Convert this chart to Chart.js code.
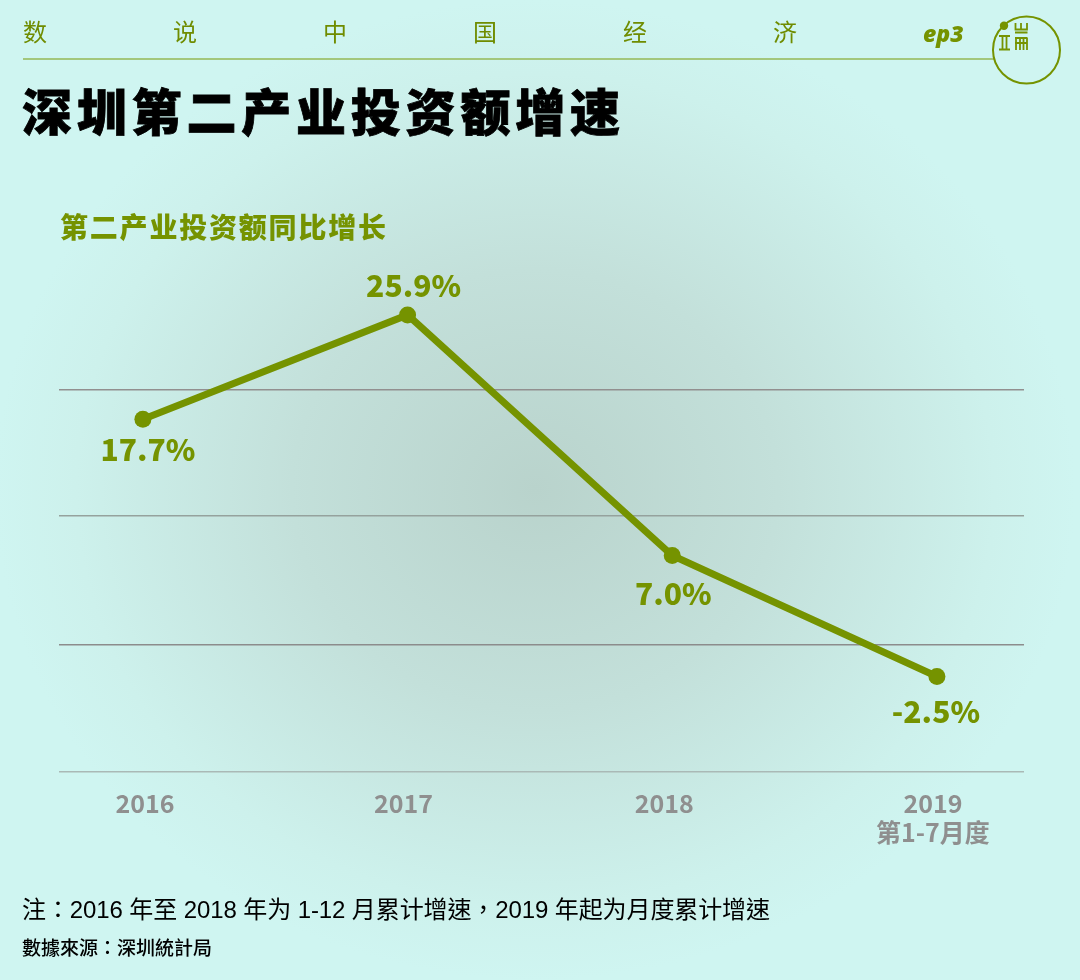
<!DOCTYPE html>
<html>
<head>
<meta charset="utf-8">
<script src="https://cdn.jsdelivr.net/npm/chart.js@4"></script>
<style>
html, body { margin: 0; padding: 0; }
body { width: 1080px; height: 980px; position: relative; overflow: hidden;
  background: radial-gradient(ellipse 540px 490px at 535px 490px, #b9d3cc 0%, #c3e0da 45%, #cdf1ec 85%, #cff5f1 100%);
  font-family: "Noto Sans CJK SC", sans-serif; }
canvas { position: absolute; left: 0; top: 0; }
.t { position: absolute; white-space: nowrap; line-height: 1; }
#brand span { position: absolute; top: 0; font-size: 24px; color: #6f8c00; font-family: "Noto Sans CJK SC"; font-weight: 400; }
#rule { position: absolute; left: 23px; top: 58px; width: 972px; height: 2px; background: #a3c77c; }
#ep { left: 923px; top: 17px; font: italic 800 23px "Open Sans", sans-serif; color: #759300; }
#title { left: 22px; top: 84px; font-size: 50px; font-weight: 900; letter-spacing: 4.8px; color: #000; -webkit-text-stroke: 0.8px #000; }
#sub { left: 60px; top: 212px; font-size: 28px; font-weight: 900; letter-spacing: 1.8px; color: #759300; }
#note { left: 22px; top: 898px; font-size: 24px; letter-spacing: -0.1px; color: #000; font-family: "Liberation Sans", "Noto Sans CJK TC"; }
#src { left: 22px; top: 937px; font-size: 19px; font-weight: 500; color: #000; font-family: "Noto Sans CJK TC"; }
#logo { position: absolute; left: 990px; top: 14px; }
</style>
</head>
<body>
<canvas id="myChart" width="1080" height="980"></canvas>
<div id="brand" class="t" style="left:0;top:19px;width:1080px;height:30px"></div>
<div id="rule"></div>
<div id="ep" class="t">ep3</div>
<svg id="logo" width="74" height="74" viewBox="0 0 74 74">
  <circle cx="36.5" cy="36" r="33.5" fill="none" stroke="#759300" stroke-width="2"/>
  <circle cx="14" cy="11.7" r="4.2" fill="#759300"/>
  <g stroke="#759300" stroke-width="1.8" fill="none">
    <path d="M9 22H20M9 35.5H20M12.5 22V35.5M16.5 22V35.5"/>
    <path d="M25.5 9V15.5H37V9M31 9V15.5M25 18.5H37.5"/>
    <path d="M25 24H37.5M26 24V36M30 24V36M33.5 24V36M37 24V36M25 29H37.5"/>
  </g>
</svg>
<div id="title" class="t">深圳第二产业投资额增速</div>
<div id="sub" class="t">第二产业投资额同比增长</div>
<div id="note" class="t">注：2016 年至 2018 年为 1-12 月累计增速，2019 年起为月度累计增速</div>
<div id="src" class="t">數據來源：深圳統計局</div>
<script>
const brandChars = ['数', '说', '中', '国', '经', '济'];
const years = [2016, 2017, 2018, 2019];
const growth = [17.7, 25.9, 7.0, -2.5];
const valueLabels = ['17.7%', '25.9%', '7.0%', '-2.5%'];
const yearLabels = ['2016', '2017', '2018', ['2019', '第1-7月度']];
const yTicks = [-10, 0, 10.1, 20, 30];
const gridColors = ['#aab9b6', '#8c8c8c', '#95a29d', '#928f8f', 'rgba(0,0,0,0)'];

const green = '#759300';

const brand = document.getElementById('brand');
brandChars.forEach((c, i) => {
    const s = document.createElement('span');
    s.textContent = c;
    s.style.left = (23 + i * 150) + 'px';
    brand.appendChild(s);
});

// value labels sit above the peak, below everything else
const labelOffsets = [[5, 30], [6, -29], [1, 38], [-1, 35]];
// year labels are not quite under the points in the original
const tickNudge = [0.008, -0.015, -0.03, -0.015];

const valueLabelPlugin = {
    id: 'valueLabels',
    afterDatasetsDraw(chart) {
        const c = chart.ctx;
        const pts = chart.getDatasetMeta(0).data;
        c.save();
        c.font = '900 30px "Noto Sans CJK SC"';
        c.fillStyle = green;
        c.textAlign = 'center';
        c.textBaseline = 'middle';
        pts.forEach((p, i) => {
            c.fillText(valueLabels[i], p.x + labelOffsets[i][0], p.y + labelOffsets[i][1]);
        });
        c.restore();
    }
};

new Chart(document.getElementById('myChart').getContext('2d'), {
    type: 'line',
    data: {
        datasets: [{
            data: years.map((y, i) => ({x: y, y: growth[i]})),
            borderColor: green,
            backgroundColor: green,
            borderWidth: 7,
            pointRadius: 8.5,
            pointHoverRadius: 8.5,
            pointBackgroundColor: green,
            pointBorderWidth: 0,
            tension: 0
        }]
    },
    options: {
        responsive: false,
        animation: false,
        layout: {padding: {left: 59, right: 56, top: 262.7, bottom: 118}},
        plugins: {legend: {display: false}, tooltip: {enabled: false}},
        scales: {
            x: {
                type: 'linear',
                min: 2015.683,
                max: 2019.329,
                grid: {display: false},
                border: {display: false},
                afterBuildTicks(axis) {
                    axis.ticks = years.map((y, i) => ({value: y + tickNudge[i]}));
                },
                afterFit(axis) { axis.height = 90; },
                ticks: {
                    autoSkip: false,
                    maxRotation: 0,
                    padding: 9,
                    color: '#8f8f8f',
                    font: {family: '"Noto Sans CJK SC"', size: 25, weight: '700', lineHeight: 1.15},
                    callback(value, index) { return yearLabels[index]; }
                }
            },
            y: {
                min: -10,
                max: 30,
                border: {display: false},
                afterBuildTicks(axis) { axis.ticks = yTicks.map(v => ({value: v})); },
                afterFit(axis) { axis.width = 0; },
                grid: {
                    drawTicks: false,
                    lineWidth: 1.5,
                    color: ctx => gridColors[yTicks.indexOf(ctx.tick.value)]
                },
                ticks: {display: false}
            }
        }
    },
    plugins: [valueLabelPlugin]
});
</script>
</body>
</html>
